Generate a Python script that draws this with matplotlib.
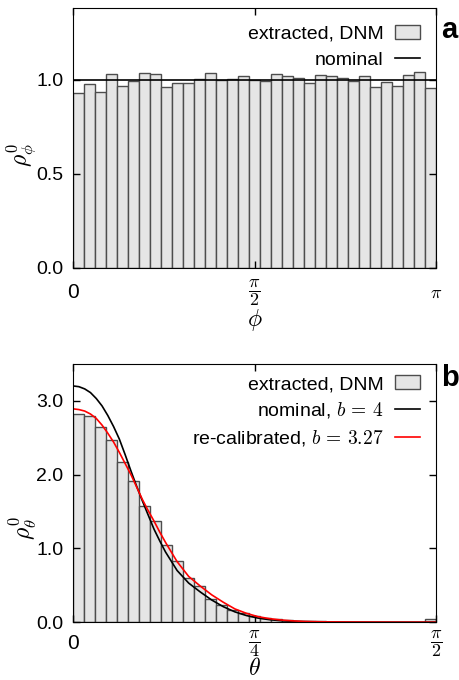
import numpy as np
import matplotlib.pyplot as plt
from matplotlib.patches import Patch
from matplotlib.lines import Line2D

plt.rcParams['font.family'] = ['Liberation Sans', 'DejaVu Sans']
plt.rcParams['mathtext.fontset'] = 'cm'

# panel a: azimuthal density, 33 bins over [0, pi]
phi_hist = [0.929, 0.979, 0.936, 1.030, 0.965, 0.995, 1.034, 1.030, 0.960, 0.983, 0.983,
            1.004, 1.035, 0.997, 1.004, 1.018, 0.997, 0.995, 1.030, 1.021, 1.009, 0.983,
            1.025, 1.021, 1.009, 0.995, 1.018, 0.960, 0.990, 0.968, 1.025, 1.039, 0.954]
phi_nominal = 1.0

# panel b: polar density, 33 bins over [0, pi/2]
theta_hist = [2.82, 2.79, 2.64, 2.47, 2.17, 1.91, 1.58, 1.37, 1.05, 0.83, 0.60,
              0.49, 0.32, 0.23, 0.17, 0.12, 0.08, 0.06, 0.04, 0.03, 0.02, 0.015,
              0.01, 0.008, 0.006, 0.005, 0.004, 0.003, 0.002, 0.002, 0.001, 0.001, 0.04]

# curves
theta_pts = [0, 0.025, 0.05, 0.075, 0.1, 0.125, 0.15, 0.175, 0.2, 0.225, 0.25, 0.275,
             0.3, 0.325, 0.35, 0.375, 0.4, 0.45, 0.5, 0.55, 0.6, 0.65, 0.7, 0.75,
             0.8, 0.85, 0.9, 0.95, 1.0, 1.1, 1.2, 1.3, 1.4, np.pi / 2]
nominal_b4 = [3.20, 3.19, 3.16, 3.11, 3.03, 2.93, 2.80, 2.65, 2.48, 2.27, 2.05, 1.84,
              1.64, 1.45, 1.26, 1.10, 0.95, 0.70, 0.53, 0.41, 0.30, 0.21, 0.14, 0.09,
              0.056, 0.034, 0.02, 0.012, 0.008, 0.003, 0.001, 0.0, 0.0, 0.0]
recal_b327 = [2.89, 2.88, 2.86, 2.82, 2.76, 2.67, 2.56, 2.44, 2.30, 2.15, 2.00, 1.83,
              1.66, 1.51, 1.37, 1.22, 1.08, 0.82, 0.62, 0.49, 0.37, 0.27, 0.18, 0.12,
              0.075, 0.048, 0.03, 0.018, 0.01, 0.004, 0.002, 0.001, 0.0, 0.0]

bar_face = '#e5e5e5'
bar_edge = '#4d4d4d'
fs = 14

fig = plt.figure(figsize=(4.6, 6.8), dpi=100)
ax1 = fig.add_axes([0.159, 0.606, 0.789, 0.382])
ax2 = fig.add_axes([0.159, 0.085, 0.789, 0.380])

# --- panel a
n1 = len(phi_hist)
w1 = np.pi / n1
ax1.bar(np.arange(n1) * w1, phi_hist, width=w1, align='edge',
        color=bar_face, edgecolor=bar_edge, linewidth=1.0)
ax1.axhline(phi_nominal, color='black', lw=1.2)
ax1.set_xlim(0, np.pi)
ax1.set_ylim(0, 1.38)
ax1.set_xticks([0, np.pi / 2, np.pi])
ax1.set_xticklabels(['0', r'$\dfrac{\pi}{2}$', r'$\pi$'])
ax1.set_yticks([0, 0.5, 1.0])
ax1.set_yticklabels(['0.0', '0.5', '1.0'])
ax1.set_xlabel(r'$\phi$', fontsize=17, va='center')
ax1.set_ylabel(r'$\rho^0_\phi$', fontsize=17, va='center')
ax1.xaxis.set_label_coords(0.5, -0.2)
ax1.yaxis.set_label_coords(-0.14, 0.435)
h1 = [Patch(facecolor=bar_face, edgecolor=bar_edge, linewidth=1.0),
      Line2D([], [], color='black', lw=1.2)]
ax1.legend(h1, ['extracted, DNM', 'nominal'], loc='upper right',
           bbox_to_anchor=(0.957, 0.935), frameon=False, markerfirst=False,
           fontsize=fs, handlelength=1.3, handletextpad=0.6,
           labelspacing=0.45, borderpad=0, borderaxespad=0)
ax1.text(1.015, 0.915, 'a', transform=ax1.transAxes, fontsize=21,
         fontweight='bold', va='center', ha='left')

# --- panel b
n2 = len(theta_hist)
w2 = (np.pi / 2) / n2
ax2.bar(np.arange(n2) * w2, theta_hist, width=w2, align='edge',
        color=bar_face, edgecolor=bar_edge, linewidth=1.0)
ax2.plot(theta_pts, nominal_b4, color='black', lw=1.2)
ax2.plot(theta_pts, recal_b327, color='red', lw=1.2)
ax2.set_xlim(0, np.pi / 2)
ax2.set_ylim(0, 3.5)
ax2.set_xticks([0, np.pi / 4, np.pi / 2])
ax2.set_xticklabels(['0', r'$\dfrac{\pi}{4}$', r'$\dfrac{\pi}{2}$'])
ax2.set_yticks([0, 1, 2, 3])
ax2.set_yticklabels(['0.0', '1.0', '2.0', '3.0'])
ax2.set_xlabel(r'$\theta$', fontsize=17, va='center')
ax2.set_ylabel(r'$\rho^0_\theta$', fontsize=17, va='center')
ax2.xaxis.set_label_coords(0.5, -0.183)
ax2.yaxis.set_label_coords(-0.14, 0.364)
h2 = [Patch(facecolor=bar_face, edgecolor=bar_edge, linewidth=1.0),
      Line2D([], [], color='black', lw=1.2),
      Line2D([], [], color='red', lw=1.2)]
ax2.legend(h2, ['extracted, DNM', r'nominal, $b\,=\,4$', r're-calibrated, $b\,=\,3.27$'],
           loc='upper right', bbox_to_anchor=(0.957, 0.955), frameon=False,
           markerfirst=False, fontsize=fs, handlelength=1.3, handletextpad=0.6,
           labelspacing=0.38, borderpad=0, borderaxespad=0)
ax2.text(1.015, 0.945, 'b', transform=ax2.transAxes, fontsize=21,
         fontweight='bold', va='center', ha='left')

for ax, xpad in ((ax1, 18), (ax2, 15.5)):
    ax.tick_params(direction='in', top=True, right=True, length=5, width=1,
                   labelsize=fs, pad=7)
    ax.tick_params(axis='x', labelsize=15, pad=xpad)
    for lab in ax.get_xticklabels():
        lab.set_verticalalignment('center')
        if lab.get_text() != '0':
            lab.set_fontsize(13)

fig.savefig('out.png', dpi=100)
